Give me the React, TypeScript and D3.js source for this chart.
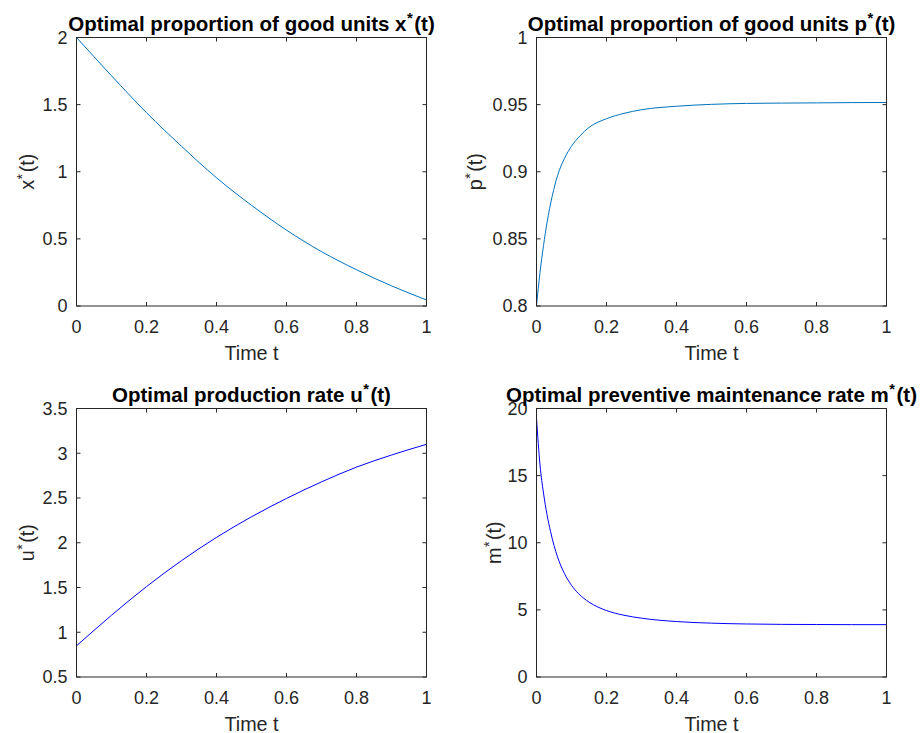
import React from "react";
import * as d3 from "d3";

// time axis ticks shared by every subplot
const timeTicks = [0, 0.2, 0.4, 0.6, 0.8, 1];

// x*(t): proportion of good units
const tX = [0, 0.1, 0.2, 0.3, 0.4, 0.5, 0.6, 0.7, 0.8, 0.9, 1];
const xStar = [2.0, 1.715, 1.44, 1.19, 0.955, 0.75, 0.565, 0.405, 0.27, 0.15, 0.045];
const xTicks = [0, 0.5, 1, 1.5, 2];

// p*(t)
const tP = [0, 0.005, 0.01, 0.02, 0.03, 0.045, 0.06, 0.08, 0.1, 0.125, 0.15, 0.2, 0.25, 0.3, 0.4, 0.5, 0.6, 0.8, 0.9, 1];
const pStar = [0.8, 0.813, 0.825, 0.845, 0.862, 0.882, 0.897, 0.91, 0.919, 0.927, 0.933, 0.9395, 0.9435, 0.9462, 0.9488, 0.9502, 0.9509, 0.9513, 0.9515, 0.9516];
const pTicks = [0.8, 0.85, 0.9, 0.95, 1];

// u*(t): production rate
const tU = [0, 0.1, 0.2, 0.3, 0.4, 0.5, 0.6, 0.7, 0.8, 0.9, 1];
const uStar = [0.848, 1.19, 1.51, 1.8, 2.06, 2.29, 2.495, 2.68, 2.845, 2.98, 3.1];
const uTicks = [0.5, 1, 1.5, 2, 2.5, 3, 3.5];

// m*(t): preventive maintenance rate
const tM = [0, 0.005, 0.01, 0.02, 0.03, 0.04, 0.05, 0.06, 0.08, 0.1, 0.12, 0.15, 0.2, 0.25, 0.3, 0.4, 0.5, 0.6, 0.7, 0.8, 0.9, 1];
const mStar = [19.3, 17.4, 15.8, 13.7, 12.1, 10.85, 9.8, 8.95, 7.7, 6.83, 6.21, 5.58, 4.95, 4.6, 4.38, 4.13, 4.01, 3.95, 3.92, 3.91, 3.9, 3.9];
const mTicks = [0, 5, 10, 15, 20];

const FONT = '"Liberation Sans", Arial, Helvetica, sans-serif';
const AXIS = "#262626";
const fmt = d3.format("~g");

type PanelProps = {
  id: string;
  left: number;
  top: number;
  title: string;
  sym: string;
  t: number[];
  v: number[];
  yTicks: number[];
  color: string;
  labelX: number;
};

// superscript asterisk followed by "(t)", as MATLAB's tex x^*(t)
function Star({ size }: { size: number }) {
  return (
    <>
      <tspan fontSize={size * 0.72} dy={-size * 0.36} dx={0.5}>*</tspan>
      <tspan dy={size * 0.36} dx={1.5}>(t)</tspan>
    </>
  );
}

function Panel({ id, left, top, title, sym, t, v, yTicks, color, labelX }: PanelProps) {
  const w = 350;
  const h = 268.5;
  const x = d3.scaleLinear().domain([0, 1]).range([left, left + w]);
  const y = d3
    .scaleLinear()
    .domain([yTicks[0], yTicks[yTicks.length - 1]])
    .range([top + h, top]);
  const line = d3
    .line<number>()
    .x((_, i) => x(t[i]))
    .y((d) => y(d))
    .curve(d3.curveMonotoneX);
  const cx = left + w / 2;
  const tick = 4;

  return (
    <g>
      <defs>
        <clipPath id={id}>
          <rect x={left} y={top} width={w} height={h} />
        </clipPath>
      </defs>
      <path d={line(v) || ""} fill="none" stroke={color} strokeWidth={1} clipPath={`url(#${id})`} />

      {/* box */}
      <rect x={left} y={top} width={w} height={h} fill="none" stroke={AXIS} strokeWidth={1} />

      {/* x ticks top and bottom */}
      {timeTicks.map((d) => (
        <g key={"x" + d}>
          <line x1={x(d)} x2={x(d)} y1={top + h} y2={top + h - tick} stroke={AXIS} />
          <line x1={x(d)} x2={x(d)} y1={top} y2={top + tick} stroke={AXIS} />
          <text x={x(d)} y={top + h + 27} textAnchor="middle" fontSize={18} fill={AXIS}>
            {fmt(d)}
          </text>
        </g>
      ))}

      {/* y ticks left and right */}
      {yTicks.map((d) => (
        <g key={"y" + d}>
          <line x1={left} x2={left + tick} y1={y(d)} y2={y(d)} stroke={AXIS} />
          <line x1={left + w} x2={left + w - tick} y1={y(d)} y2={y(d)} stroke={AXIS} />
          <text x={left - 9} y={y(d)} dy="0.35em" textAnchor="end" fontSize={18} fill={AXIS}>
            {fmt(d)}
          </text>
        </g>
      ))}

      <text x={cx} y={top + h + 53.5} textAnchor="middle" fontSize={19.8} fill={AXIS}>
        Time t
      </text>

      <text
        transform={`translate(${labelX},${top + h / 2}) rotate(-90)`}
        textAnchor="middle"
        fontSize={19.8}
        fill={AXIS}
      >
        {sym}
        <Star size={19.8} />
      </text>

      <text x={cx} y={top - 7} textAnchor="middle" fontSize={20.5} fontWeight="bold" fill="#000">
        {title} {sym}
        <Star size={20.5} />
      </text>
    </g>
  );
}

export default function App() {
  return (
    <svg
      width={921}
      height={733}
      style={{ position: "absolute", left: 0, top: 0, background: "#fff", fontFamily: FONT }}
    >
      <rect width={921} height={733} fill="#fff" />
      <Panel id="c1" left={76.5} top={37.5} title="Optimal proportion of good units" sym="x"
        t={tX} v={xStar} yTicks={xTicks} color="#0072BD" labelX={34} />
      <Panel id="c2" left={536.5} top={37.5} title="Optimal proportion of good units" sym="p"
        t={tP} v={pStar} yTicks={pTicks} color="#0072BD" labelX={482} />
      <Panel id="c3" left={76.5} top={408.5} title="Optimal production rate" sym="u"
        t={tU} v={uStar} yTicks={uTicks} color="#0000FF" labelX={34} />
      <Panel id="c4" left={536.5} top={408.5} title="Optimal preventive maintenance rate" sym="m"
        t={tM} v={mStar} yTicks={mTicks} color="#0000FF" labelX={501} />
    </svg>
  );
}
